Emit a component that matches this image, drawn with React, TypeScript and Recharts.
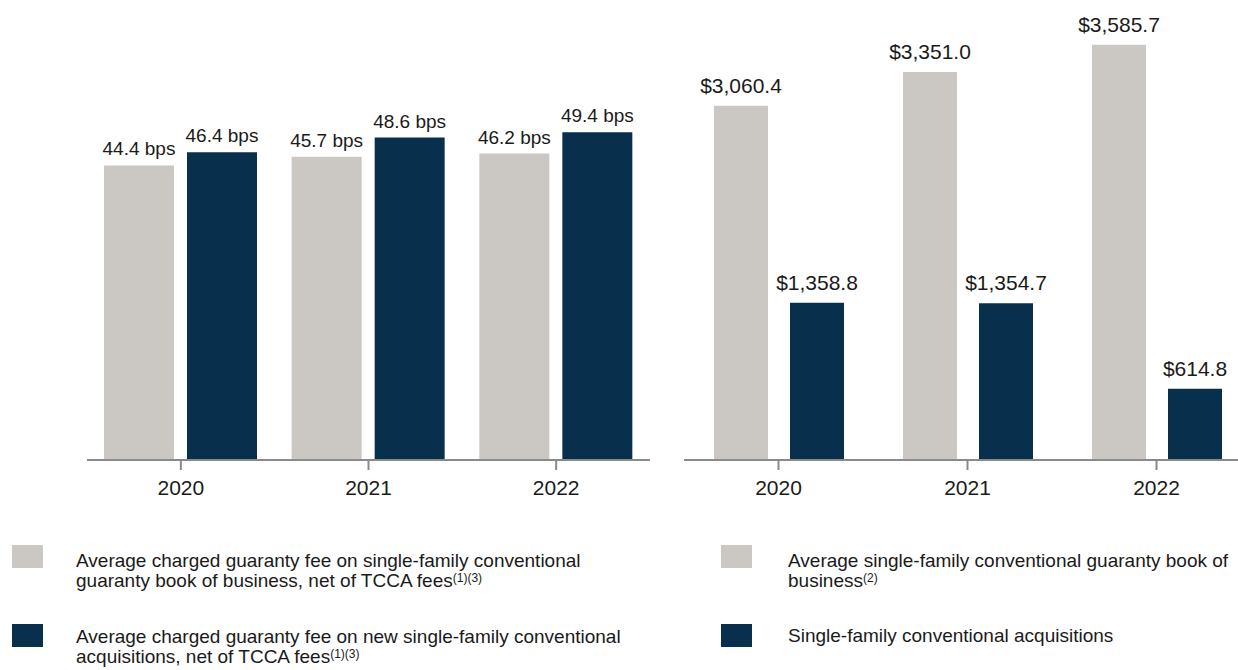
import React from "react";
import { Bar, BarChart, LabelList, XAxis, YAxis } from "recharts";

const YEARS = ["2020", "2021", "2022"];
const BOOK_FEE_BPS = [44.4, 45.7, 46.2];
const ACQ_FEE_BPS = [46.4, 48.6, 49.4];
const BOOK_OF_BUSINESS = [3060.4, 3351.0, 3585.7];
const ACQUISITIONS = [1358.8, 1354.7, 614.8];

const GRAY = "#cbc8c3";
const NAVY = "#08304d";
const AXIS = "#8a8a8a";
const TEXT = "#1a1a1a";
const FONT = "'Liberation Sans', Arial, sans-serif";

const feeData = YEARS.map((year, i) => ({
  year,
  book: BOOK_FEE_BPS[i],
  acq: ACQ_FEE_BPS[i],
}));

const volumeData = YEARS.map((year, i) => ({
  year,
  book: BOOK_OF_BUSINESS[i],
  acq: ACQUISITIONS[i],
}));

const fmtBps = (v: any) => `${Number(v).toFixed(1)} bps`;
const fmtDollars = (v: any) =>
  "$" +
  Number(v).toLocaleString("en-US", {
    minimumFractionDigits: 1,
    maximumFractionDigits: 1,
  });

const tickStyle = { fontSize: 21, fill: TEXT, fontFamily: FONT };

const Sup = ({ children }: { children: React.ReactNode }) => (
  <sup style={{ fontSize: 12, verticalAlign: "top", position: "relative", top: -3 }}>
    {children}
  </sup>
);

const Swatch = ({ color, left, top }: { color: string; left: number; top: number }) => (
  <div
    style={{
      position: "absolute",
      left,
      top,
      width: 31,
      height: 23,
      background: color,
    }}
  />
);

const legendText: React.CSSProperties = {
  position: "absolute",
  fontSize: 19,
  lineHeight: "20px",
  color: TEXT,
  fontFamily: FONT,
  whiteSpace: "nowrap",
};

export default function App() {
  return (
    <div
      style={{
        position: "fixed",
        left: 0,
        top: 0,
        width: 1238,
        height: 670,
        overflow: "hidden",
        background: "#fff",
        fontFamily: FONT,
      }}
    >
      {/* left: guaranty fees in bps */}
      <div style={{ position: "absolute", left: 0, top: 0 }}>
        <BarChart
          width={670}
          height={520}
          data={feeData}
          margin={{ top: 62, right: 20, bottom: 20, left: 87 }}
          barSize={70}
          barGap={13}
        >
          <XAxis
            dataKey="year"
            height={40}
            axisLine={{ stroke: AXIS, strokeWidth: 2 }}
            tickLine={{ stroke: AXIS, strokeWidth: 2 }}
            tickSize={10}
            tickMargin={10}
            tick={tickStyle}
          />
          <YAxis hide domain={[0, 60]} />
          <Bar dataKey="book" fill={GRAY} isAnimationActive={false}>
            <LabelList
              dataKey="book"
              position="top"
              offset={10}
              formatter={fmtBps}
              style={{ fontSize: 19, fill: TEXT, fontFamily: FONT }}
            />
          </Bar>
          <Bar dataKey="acq" fill={NAVY} isAnimationActive={false}>
            <LabelList
              dataKey="acq"
              position="top"
              offset={10}
              formatter={fmtBps}
              style={{ fontSize: 19, fill: TEXT, fontFamily: FONT }}
            />
          </Bar>
        </BarChart>
      </div>

      {/* right: book of business and acquisitions */}
      <div style={{ position: "absolute", left: 660, top: 0 }}>
        <BarChart
          width={600}
          height={520}
          data={volumeData}
          margin={{ top: 20, right: 9, bottom: 20, left: 24 }}
          barSize={54}
          barGap={22}
        >
          <XAxis
            dataKey="year"
            height={40}
            axisLine={{ stroke: AXIS, strokeWidth: 2 }}
            tickLine={{ stroke: AXIS, strokeWidth: 2 }}
            tickSize={10}
            tickMargin={10}
            tick={tickStyle}
          />
          <YAxis hide domain={[0, 3800]} />
          <Bar dataKey="book" fill={GRAY} isAnimationActive={false}>
            <LabelList
              dataKey="book"
              position="top"
              offset={13}
              formatter={fmtDollars}
              style={{ fontSize: 21, fill: TEXT, fontFamily: FONT }}
            />
          </Bar>
          <Bar dataKey="acq" fill={NAVY} isAnimationActive={false}>
            <LabelList
              dataKey="acq"
              position="top"
              offset={13}
              formatter={fmtDollars}
              style={{ fontSize: 21, fill: TEXT, fontFamily: FONT }}
            />
          </Bar>
        </BarChart>
      </div>

      {/* legends */}
      <Swatch color={GRAY} left={12} top={545} />
      <div style={{ ...legendText, left: 76, top: 551 }}>
        Average charged guaranty fee on single-family conventional
        <br />
        guaranty book of business, net of TCCA fees<Sup>(1)(3)</Sup>
      </div>
      <Swatch color={NAVY} left={12} top={624} />
      <div style={{ ...legendText, left: 76, top: 627 }}>
        Average charged guaranty fee on new single-family conventional
        <br />
        acquisitions, net of TCCA fees<Sup>(1)(3)</Sup>
      </div>

      <Swatch color={GRAY} left={721} top={545} />
      <div style={{ ...legendText, left: 788, top: 551 }}>
        Average single-family conventional guaranty book of
        <br />
        business<Sup>(2)</Sup>
      </div>
      <Swatch color={NAVY} left={721} top={624} />
      <div style={{ ...legendText, left: 788, top: 626 }}>
        Single-family conventional acquisitions
      </div>
    </div>
  );
}
